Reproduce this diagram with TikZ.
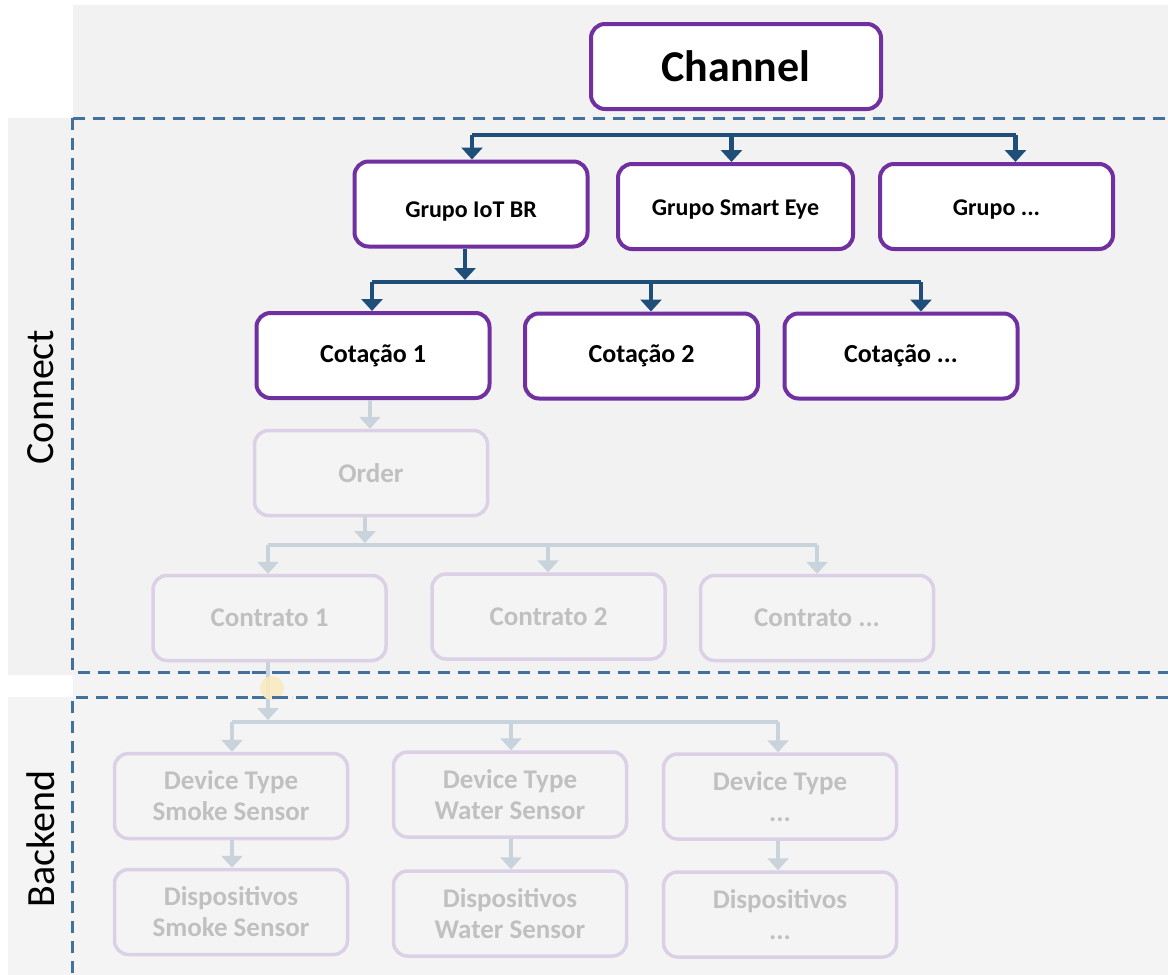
\documentclass[tikz,border=0pt]{standalone}
\usepackage{fontspec}
\setmainfont{Carlito}
\usetikzlibrary{positioning,calc,arrows.meta}
\definecolor{chpurple}{RGB}{112,48,160}
\definecolor{chblue}{RGB}{31,78,121}
\definecolor{chdash}{RGB}{65,113,156}
\definecolor{chgray}{RGB}{242,242,242}
\definecolor{chgraylt}{RGB}{244,244,244}
\definecolor{fadepurple}{RGB}{219,208,230}
\definecolor{fadeblue}{RGB}{200,211,220}
\definecolor{fadetext}{RGB}{192,192,192}
\definecolor{chyellow}{RGB}{249,235,192}
\tikzset{
  topbox/.style={draw=chpurple, line width=4pt, fill=white, rounded corners=14pt,
    minimum width=233pt, minimum height=85pt, align=center,
    font=\fontsize{24}{28}\selectfont\bfseries},
  fadebox/.style={draw=fadepurple, line width=3.5pt, fill=chgraylt, rounded corners=14pt,
    minimum width=233pt, minimum height=85pt, align=center, text=fadetext,
    font=\fontsize{27}{31}\selectfont\bfseries},
  link/.style={draw=chblue, line width=4.5pt},
  linkarr/.style={link, -{Triangle[width=21pt,length=12pt]}},
  fadelink/.style={draw=fadeblue, line width=4.5pt},
  fadearr/.style={fadelink, -{Triangle[width=21pt,length=12pt]}},
  dashline/.style={draw=chdash, line width=3pt, dash pattern=on 12pt off 8pt},
  layerlabel/.style={rotate=90, font=\fontsize{40}{46}\selectfont}
}
\begin{document}
\begin{tikzpicture}[x=1pt, y=-1pt]
    % Background
    \useasboundingbox (0,0) rectangle (1168,975);
    \fill[white] (0,0) rectangle (1168,975);
    \fill[chgray] (73,5) rectangle (1168,118);
    \fill[chgray] (8,118) rectangle (1168,675);
    \fill[chgraylt] (73,675) rectangle (1168,697);
    \fill[chgraylt] (8,697) rectangle (1168,975);

    % Layers
    \draw[dashline] (73,118) -- (1168,118);
    \draw[dashline] (72,118) -- (72,672) -- (1168,672);
    \draw[dashline] (1168,697) -- (72,697) -- (72,975);
    \node[layerlabel] (connect) at (41,397) {Connect};
    \node[layerlabel] (backend) at (41,839) {Backend};

    % Channel and groups
    \node[topbox, minimum width=290pt, font=\fontsize{44}{50}\selectfont\bfseries] (channel) at (736,66.5) {Channel};
    \node[topbox, text height=30pt] (grpiot) at (471,204) {Grupo IoT BR};
    \node[topbox, minimum width=235pt, text height=22pt] (grpeye) at (735.5,206.5) {Grupo Smart Eye};
    \node[topbox, text height=22pt] (grpetc) at (996.5,206.5) {Grupo ...};

    % Quotations
    \node[topbox, font=\fontsize{26}{30}\selectfont\bfseries] (cot1) at (373,355.5) {Cotação 1};
    \node[topbox, font=\fontsize{26}{30}\selectfont\bfseries] (cot2) at (641.5,356) {Cotação 2};
    \node[topbox, font=\fontsize{26}{30}\selectfont\bfseries] (cot3) at (901,356) {Cotação ...};

    % Faded part
    \node[fadebox] (order) at (371,473) {Order};
    \node[fadebox] (ctr1) at (269.5,618) {Contrato 1};
    \node[fadebox] (ctr2) at (548.5,616.5) {Contrato 2};
    \node[fadebox] (ctr3) at (817,618) {Contrato ...};
    \node[fadebox] (dtype1) at (231,796) {Device Type\\Smoke Sensor};
    \node[fadebox] (dtype2) at (510,794.5) {Device Type\\Water Sensor};
    \node[fadebox] (dtype3) at (780,796.5) {Device Type\\...};
    \node[fadebox] (disp1) at (231,912) {Dispositivos\\Smoke Sensor};
    \node[fadebox] (disp2) at (510,913.5) {Dispositivos\\Water Sensor};
    \node[fadebox] (disp3) at (780,914.5) {Dispositivos\\...};

    % Channel -> groups
    \coordinate (busgrp) at (736,135);
    \draw[link] ([xshift=1pt]grpiot.north |- busgrp) -- ([xshift=19pt]grpetc.north |- busgrp);
    \draw[linkarr] ([xshift=1pt]grpiot.north |- busgrp) -- ([xshift=1pt]grpiot.north);
    \draw[linkarr] ([xshift=-4pt]grpeye.north |- busgrp) -- ([xshift=-4pt]grpeye.north);
    \draw[linkarr] ([xshift=19pt]grpetc.north |- busgrp) -- ([xshift=19pt]grpetc.north);

    % Group -> quotations
    \coordinate (buscot) at (465,282);
    \draw[linkarr] ([xshift=-6pt]grpiot.south) -- ([yshift=2pt]buscot);
    \draw[link] ([xshift=-1pt]cot1.north |- buscot) -- ([xshift=20pt]cot3.north |- buscot);
    \draw[linkarr] ([xshift=-1pt]cot1.north |- buscot) -- ([xshift=-1pt]cot1.north);
    \draw[linkarr] ([xshift=9.5pt]cot2.north |- buscot) -- ([xshift=9.5pt]cot2.north);
    \draw[linkarr] ([xshift=20pt]cot3.north |- buscot) -- ([xshift=20pt]cot3.north);

    % Quotation -> order -> contracts
    \draw[fadearr] ([xshift=-3pt]cot1.south) -- ([xshift=-1pt]order.north);
    \coordinate (busctr) at (365,545);
    \draw[fadearr] ([xshift=-6pt]order.south) -- ([yshift=2pt]busctr);
    \draw[fadelink] ([xshift=-1.5pt]ctr1.north |- busctr) -- (ctr3.north |- busctr);
    \draw[fadearr] ([xshift=-1.5pt]ctr1.north |- busctr) -- ([xshift=-1.5pt]ctr1.north);
    \draw[fadearr] ([xshift=-0.5pt]ctr2.north |- busctr) -- ([xshift=-0.5pt]ctr2.north);
    \draw[fadearr] (ctr3.north |- busctr) -- (ctr3.north);

    % Contract -> device types
    \coordinate (busdev) at (268,722);
    \draw[fadelink] ([xshift=-1.5pt]ctr1.south) -- ([xshift=-1.5pt]ctr1.south |- 0,703);
    \fill[chyellow, opacity=0.9] (272,688) circle (12pt);
    \draw[dashline] (252,672) -- (292,672);
    \draw[dashline] (252,697) -- (292,697);
    \draw[fadearr] ([xshift=-1.5pt]ctr1.south |- 0,700) -- ([yshift=2pt]busdev);
    \draw[fadelink] ([xshift=1pt]dtype1.north |- busdev) -- ([xshift=-2pt]dtype3.north |- busdev);
    \draw[fadearr] ([xshift=1pt]dtype1.north |- busdev) -- ([xshift=1pt]dtype1.north);
    \draw[fadearr] ([xshift=1pt]dtype2.north |- busdev) -- ([xshift=1pt]dtype2.north);
    \draw[fadearr] ([xshift=-2pt]dtype3.north |- busdev) -- ([xshift=-2pt]dtype3.north);

    % Device types -> devices
    \draw[fadearr] ([xshift=1pt]dtype1.south) -- ([xshift=1pt]disp1.north);
    \draw[fadearr] ([xshift=1pt]dtype2.south) -- ([xshift=1pt]disp2.north);
    \draw[fadearr] ([xshift=-2pt]dtype3.south) -- ([xshift=-2pt]disp3.north);
\end{tikzpicture}
\end{document}
